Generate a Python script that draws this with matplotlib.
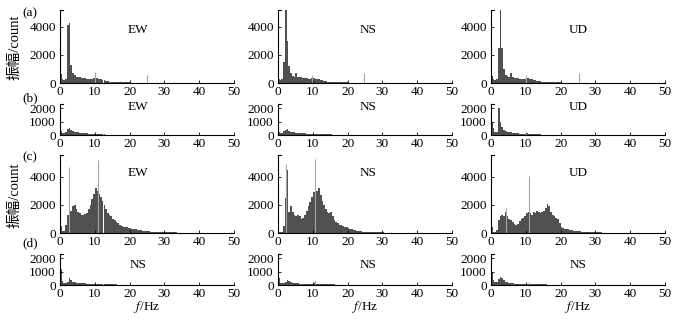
import numpy as np
import matplotlib
matplotlib.use("Agg")
import matplotlib.pyplot as plt

plt.rcParams['font.family'] = ['Liberation Serif', 'Noto Sans CJK SC']
plt.rcParams['mathtext.fontset'] = 'stix'

# frequency bins (left edges, 0.5 Hz wide)
freq = np.arange(0, 50, 0.5)

tail_a = [11, 11, 10, 10, 9, 9, 9, 8, 8, 8,
          7, 7, 7, 6, 6, 6, 6, 5, 5, 5,
          5, 5, 4, 4, 4, 4, 4, 3, 3, 3,
          3, 3, 3, 3, 2, 2, 2, 2, 2, 2]

a_ew = [650, 250, 200, 280, 4100, 4300, 1300, 700, 550, 450,
        420, 400, 380, 350, 330, 320, 310, 300, 300, 330,
        380, 330, 290, 260, 230, 190, 150, 120, 100, 90,
        80, 70, 65, 60, 55, 50, 45, 42, 40, 38,
        35, 32, 30, 28, 26, 25, 24, 22, 21, 20,
        19, 18, 17, 16, 15, 14, 13, 13, 12, 12] + tail_a
a_ns = [300, 200, 250, 1500, 5200, 3000, 1200, 700, 500, 450,
        700, 450, 420, 400, 380, 350, 330, 320, 310, 330,
        350, 320, 300, 270, 230, 180, 140, 110, 100, 90,
        80, 70, 65, 60, 55, 50, 45, 42, 40, 38,
        35, 32, 30, 28, 26, 25, 24, 22, 21, 20,
        19, 18, 17, 16, 15, 14, 13, 13, 12, 12] + tail_a
a_ud = [500, 300, 200, 250, 2500, 5200, 2500, 1000, 600, 500,
        450, 700, 400, 380, 350, 330, 320, 300, 300, 320,
        380, 330, 300, 270, 240, 200, 160, 130, 110, 90,
        80, 70, 65, 60, 55, 50, 45, 42, 40, 38,
        35, 32, 30, 28, 26, 25, 24, 22, 21, 20,
        19, 18, 17, 16, 15, 14, 13, 13, 12, 12] + tail_a

tail_b = [3] * 50

b_ew = [300, 150, 120, 250, 450, 500, 350, 280, 250, 220,
        200, 180, 160, 150, 130, 120, 110, 100, 90, 80,
        70, 60, 55, 50, 45, 40, 35, 30, 28, 25,
        22, 20, 18, 16, 15, 14, 13, 12, 11, 10,
        10, 9, 9, 8, 8, 7, 7, 6, 6, 5] + tail_b
b_ns = [200, 120, 150, 300, 400, 420, 300, 250, 220, 200,
        180, 160, 150, 140, 130, 120, 110, 100, 90, 80,
        75, 70, 65, 60, 55, 50, 48, 45, 42, 40,
        38, 36, 35, 34, 33, 32, 31, 30, 30, 30,
        29, 28, 28, 27, 27, 26, 26, 25, 25, 25] + tail_b
b_ud = [900, 500, 200, 250, 2000, 1000, 600, 400, 300, 250,
        220, 200, 180, 160, 140, 120, 110, 100, 90, 90,
        120, 90, 80, 80, 70, 60, 50, 45, 40, 35,
        30, 28, 25, 22, 20, 18, 16, 15, 14, 13,
        12, 11, 10, 9, 8, 7, 6, 5, 4, 4] + tail_b

c_ew = [500, 150, 150, 600, 1300, 3400, 1600, 1900, 2000, 1700,
        1500, 1400, 1300, 1300, 1350, 1450, 1700, 2000, 2400, 2800,
        3200, 3000, 2800, 2600, 2300, 2000, 1700, 1400, 1300, 1200,
        1000, 900, 800, 700, 600, 500, 450, 420, 400, 380,
        350, 320, 280, 250, 220, 200, 180, 160, 150, 140,
        120, 110, 100, 95, 90, 80, 75, 70, 65, 60,
        55, 50, 48, 45, 42, 40, 38, 35, 33, 30,
        28, 27, 26, 25, 24, 23, 22, 21, 20, 19,
        18, 17, 16, 15, 14, 13, 12, 12, 11, 10,
        8, 6, 5, 4, 3, 3, 2, 2, 2, 2]
c_ns = [100, 80, 100, 500, 2500, 4500, 1500, 1900, 1500, 1300,
        1200, 1300, 1200, 1000, 1100, 1300, 1600, 1900, 2200, 2600,
        2900, 3200, 3000, 3200, 2700, 2300, 2000, 1700, 1500, 1400,
        1500, 1200, 900, 800, 700, 600, 550, 500, 450, 400,
        350, 300, 260, 220, 190, 160, 140, 120, 100, 90,
        80, 75, 70, 65, 60, 55, 50, 45, 42, 40,
        38, 35, 32, 30, 28, 26, 24, 22, 20, 19,
        18, 17, 16, 15, 14, 13, 12, 11, 10, 9,
        2, 2, 2, 2, 2, 2, 2, 2, 2, 2,
        1, 1, 1, 1, 1, 1, 1, 1, 1, 1]
c_ud = [400, 100, 100, 200, 900, 1200, 1300, 1200, 1500, 1200,
        1000, 900, 750, 650, 550, 650, 850, 1000, 1100, 1200,
        1400, 1500, 1400, 1300, 1500, 1400, 1600, 1500, 1400, 1500,
        1600, 1800, 2100, 1900, 1500, 1300, 1200, 1100, 1000, 700,
        450, 380, 320, 280, 250, 220, 200, 170, 150, 140,
        120, 110, 100, 90, 80, 70, 65, 60, 55, 50,
        45, 42, 40, 37, 35, 32, 30, 28, 26, 24,
        22, 20, 19, 18, 17, 16, 15, 14, 13, 12,
        11, 10, 9, 8, 8, 7, 7, 6, 6, 5,
        5, 4, 4, 3, 3, 3, 2, 2, 2, 2]

d_1 = [1200, 300, 150, 150, 250, 500, 350, 250, 200, 180,
       160, 150, 140, 130, 120, 110, 100, 95, 90, 85,
       90, 80, 75, 70, 65, 60, 55, 50, 48, 45,
       42, 40, 38, 36, 35, 34, 33, 32, 31, 30,
       30, 29, 28, 28, 27, 26, 26, 25, 25, 24] + tail_b
d_2 = [500, 150, 120, 120, 200, 400, 300, 200, 150, 140,
       130, 120, 110, 100, 95, 90, 85, 80, 78, 75,
       120, 200, 80, 70, 65, 60, 55, 50, 48, 45,
       42, 40, 38, 36, 35, 34, 33, 32, 31, 30,
       30, 29, 28, 28, 27, 26, 26, 25, 25, 24] + tail_b
d_3 = [900, 400, 200, 200, 450, 600, 500, 350, 250, 200,
       160, 140, 120, 110, 100, 95, 90, 85, 80, 75,
       80, 90, 70, 65, 60, 55, 50, 48, 45, 42,
       40, 38, 36, 35, 34, 33, 32, 31, 30, 30,
       29, 28, 28, 27, 27, 26, 26, 25, 25, 24] + tail_b

# narrow spectral lines (frequency, amplitude)
spikes = {
    (0, 0): [(10.0, 750), (25.0, 600)],
    (0, 1): [(9.8, 600), (24.8, 700)],
    (0, 2): [(10.2, 600), (25.2, 700)],
    (1, 0): [], (1, 1): [], (1, 2): [(10.0, 150)],
    (2, 0): [(2.6, 4700), (10.8, 5200)],
    (2, 1): [(2.3, 4900), (10.6, 5300)],
    (2, 2): [(4.2, 1750), (11.0, 4050)],
    (3, 0): [], (3, 1): [(10.5, 350)], (3, 2): [(10.8, 200)],
}

data = [[a_ew, a_ns, a_ud], [b_ew, b_ns, b_ud], [c_ew, c_ns, c_ud], [d_1, d_2, d_3]]
titles = [["EW", "NS", "UD"], ["EW", "NS", "UD"], ["EW", "NS", "UD"], ["NS", "NS", "NS"]]
panel_labels = ["(a)", "(b)", "(c)", "(d)"]
ylims = [5200, 2300, 5570, 2300]
yticks = [[0, 2000, 4000], [0, 1000, 2000], [0, 2000, 4000], [0, 1000, 2000]]
xticks = [0, 10, 20, 30, 40, 50]

W, H = 697, 324
fig = plt.figure(figsize=(W / 100, H / 100), dpi=100)

col_left = [60, 278, 491]
col_w = 174
row_top = [10, 104, 155, 254]
row_bot = [83, 135, 233, 285]
title_x = [138, 368, 578]
title_y = [30, 107, 173, 265]
label_y = [13, 98, 157, 243]

def fx(x):
    return x / W

def fy(y):
    return 1 - y / H

fill_col = '#505050'
line_col = '#a5a5a5'

for r in range(4):
    for c in range(3):
        ax = fig.add_axes([fx(col_left[c]), fy(row_bot[r]), col_w / W,
                           (row_bot[r] - row_top[r]) / H])
        ax.bar(freq, data[r][c], width=0.5, align='edge', color=fill_col,
               linewidth=0)
        for f, a in spikes[(r, c)]:
            ax.vlines(f, 0, a, color=line_col, linewidth=0.8)
        ax.set_xlim(0, 50)
        ax.set_ylim(0, ylims[r])
        ax.set_xticks(xticks)
        ax.set_yticks(yticks[r])
        for s in ['top', 'right']:
            ax.spines[s].set_visible(False)
        for s in ['left', 'bottom']:
            ax.spines[s].set_linewidth(0.8)
        ax.plot([0, 0.8], [ylims[r], ylims[r]], color='black', lw=0.8,
                clip_on=False)
        ax.tick_params(direction='in', length=2.5, width=0.6,
                       labelsize=9.5, pad=2)
        ax.tick_params(axis='y', pad=3)
        fig.text(fx(title_x[c]), fy(title_y[r]), titles[r][c],
                 ha='center', va='center', fontsize=9.5)
    fig.text(fx(30), fy(label_y[r]), panel_labels[r], ha='center',
             va='center', fontsize=9.5)

for yc in [47, 195]:
    fig.text(fx(15), fy(yc), "振幅/count", rotation=90, ha='center',
             va='center', fontsize=10.5)

for c in range(3):
    fig.text(fx(col_left[c] + col_w / 2), fy(307), "$f$/Hz", ha='center',
             va='center', fontsize=9.5)

fig.savefig("out.png", dpi=100)
